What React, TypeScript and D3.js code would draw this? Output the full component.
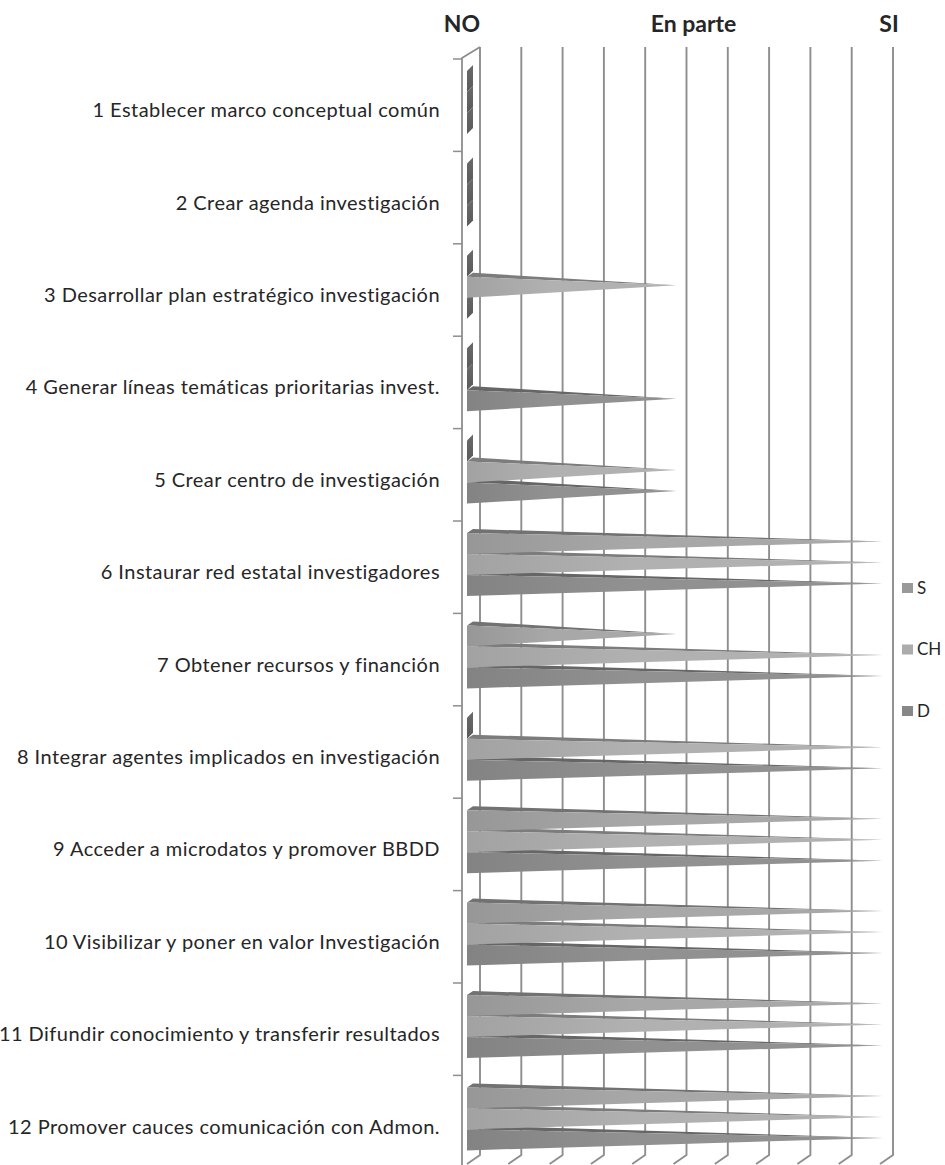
import React from "react";
import * as d3 from "d3";

const categories = [
  "1 Establecer marco conceptual común",
  "2 Crear agenda investigación",
  "3 Desarrollar plan estratégico investigación",
  "4 Generar líneas temáticas prioritarias invest.",
  "5 Crear centro de investigación",
  "6 Instaurar red estatal investigadores",
  "7 Obtener recursos y financión",
  "8 Integrar agentes implicados en investigación",
  "9 Acceder a microdatos y promover BBDD",
  "10 Visibilizar y poner en valor Investigación",
  "11 Difundir conocimiento y transferir resultados",
  "12 Promover cauces comunicación con Admon.",
];

const seriesNames = ["S", "CH", "D"];
const sValues = [0, 0, 0, 0, 0, 1, 0.5, 0, 1, 1, 1, 1];
const chValues = [0, 0, 0.5, 0, 0.5, 1, 1, 1, 1, 1, 1, 1];
const dValues = [0, 0, 0, 0.5, 0.5, 1, 1, 1, 1, 1, 1, 1];

const headerLabels = ["NO", "En parte", "SI"];
const headerValues = [0, 0.5, 1];

const W = 945;
const H = 1165;

const seriesStyle = [
  { front0: "#979797", front1: "#a8a8a8", top: "#727272" },
  { front0: "#a2a2a2", front1: "#b1b1b1", top: "#7c7c7c" },
  { front0: "#838383", front1: "#919191", top: "#666666" },
];
const legendColors = ["#999999", "#acacac", "#878787"];

export default function App() {
  const values = [sValues, chValues, dValues];
  const xFront = d3.scaleLinear().domain([0, 1]).range([467, 880]);
  const backDx = 13;
  const yCat = d3.scaleBand<string>().domain(categories).range([60, 60 + 92.4 * 12]).padding(0);
  const ySer = d3.scaleBand<string>().domain(seriesNames).range([11, 11 + 63]).padding(0);
  const headerX = d3.scaleLinear().domain([0, 1]).range([462, 889]);
  const headerDx = [0, 18, 0];
  const gridTicks = xFront.ticks(10);

  const pdx = 6;
  const pdy = -4;
  const sdy = -6;
  const line = d3.line();

  const wallTop = 58;
  const gridTop = 47;
  const gridBottom = 1155;

  const marks: React.ReactNode[] = [];
  categories.forEach((cat, ci) => {
    const y0c = yCat(cat)!;
    for (let si = seriesNames.length - 1; si >= 0; si--) {
      const v = values[si][ci];
      const y0 = y0c + ySer(seriesNames[si])!;
      const y1 = y0 + ySer.bandwidth();
      const x0 = xFront(0);
      if (v <= 0) {
        marks.push(
          <path
            key={`z-${ci}-${si}`}
            d={line([[x0, y0], [x0 + pdx, y0 + sdy], [x0 + pdx, y1 + sdy], [x0, y1]])! + "Z"}
            fill="url(#gz)"
          />
        );
      } else {
        const tip: [number, number] = [xFront(v) + pdx / 2, (y0 + y1) / 2 + pdy / 2];
        marks.push(
          <g key={`p-${ci}-${si}`}>
            <path d={line([[x0, y0], [x0 + pdx, y0 + pdy], tip])! + "Z"} fill={seriesStyle[si].top} />
            <path d={line([[x0, y0], [x0, y1], tip])! + "Z"} fill={`url(#gf${si})`} />
          </g>
        );
      }
    }
  });

  const catTicks = d3.range(categories.length + 1).map((k) => 60 + 92.4 * k);

  return (
    <svg
      width={W}
      height={H}
      style={{ position: "absolute", left: 0, top: 0, background: "#fff" }}
      fontFamily="Lato, 'Open Sans', sans-serif"
    >
      <defs>
        {seriesStyle.map((s, i) => (
          <linearGradient key={i} id={`gf${i}`} x1="0" x2="1" y1="0" y2="0">
            <stop offset="0" stopColor={s.front0} />
            <stop offset="0.4" stopColor={s.front1} />
            <stop offset="1" stopColor={s.front1} />
          </linearGradient>
        ))}
        <linearGradient id="gz" x1="0" x2="0" y1="0" y2="1">
          <stop offset="0" stopColor="#6a6a6a" />
          <stop offset="1" stopColor="#5a5a5a" />
        </linearGradient>
      </defs>

      {/* gridlines on back wall + floor */}
      {gridTicks.map((t, i) => {
        const gx = xFront(t) + backDx;
        return (
          <path
            key={`g${i}`}
            d={`M${gx},${gridTop}V${gridBottom}L${gx - backDx},${gridBottom + 9}`}
            fill="none"
            stroke="#8e8e8e"
            strokeWidth={1.9}
          />
        );
      })}

      {/* left side wall */}
      <path
        d={`M462,${H + 10}V${wallTop}L${xFront(0) + backDx},${gridTop}`}
        fill="none"
        stroke="#8e8e8e"
        strokeWidth={1.8}
      />
      {catTicks.map((y, i) => (
        <line key={`t${i}`} x1={453} x2={462} y1={y - 1} y2={y - 1} stroke="#8e8e8e" strokeWidth={1.5} />
      ))}

      {marks}

      {/* category labels */}
      {categories.map((c) => (
        <text
          key={c}
          x={440}
          y={yCat(c)! + yCat.bandwidth() / 2 + 4}
          dy="0.35em"
          textAnchor="end"
          fontSize={20}
          letterSpacing={0.45}
          fill="#262626"
        >
          {c}
        </text>
      ))}

      {/* header labels */}
      {headerLabels.map((h, i) => (
        <text
          key={h}
          x={headerX(headerValues[i]) + headerDx[i]}
          y={32}
          textAnchor="middle"
          fontSize={23}
          fontWeight="bold"
          fill="#262626"
        >
          {h}
        </text>
      ))}

      {/* legend */}
      {seriesNames.map((s, i) => {
        const cy = 588 + i * 61.5;
        return (
          <g key={s}>
            <rect x={902} y={cy - 5} width={11} height={10} fill={legendColors[i]} />
            <text x={917} y={cy} dy="0.35em" fontSize={17} fill="#262626">
              {s}
            </text>
          </g>
        );
      })}
    </svg>
  );
}
